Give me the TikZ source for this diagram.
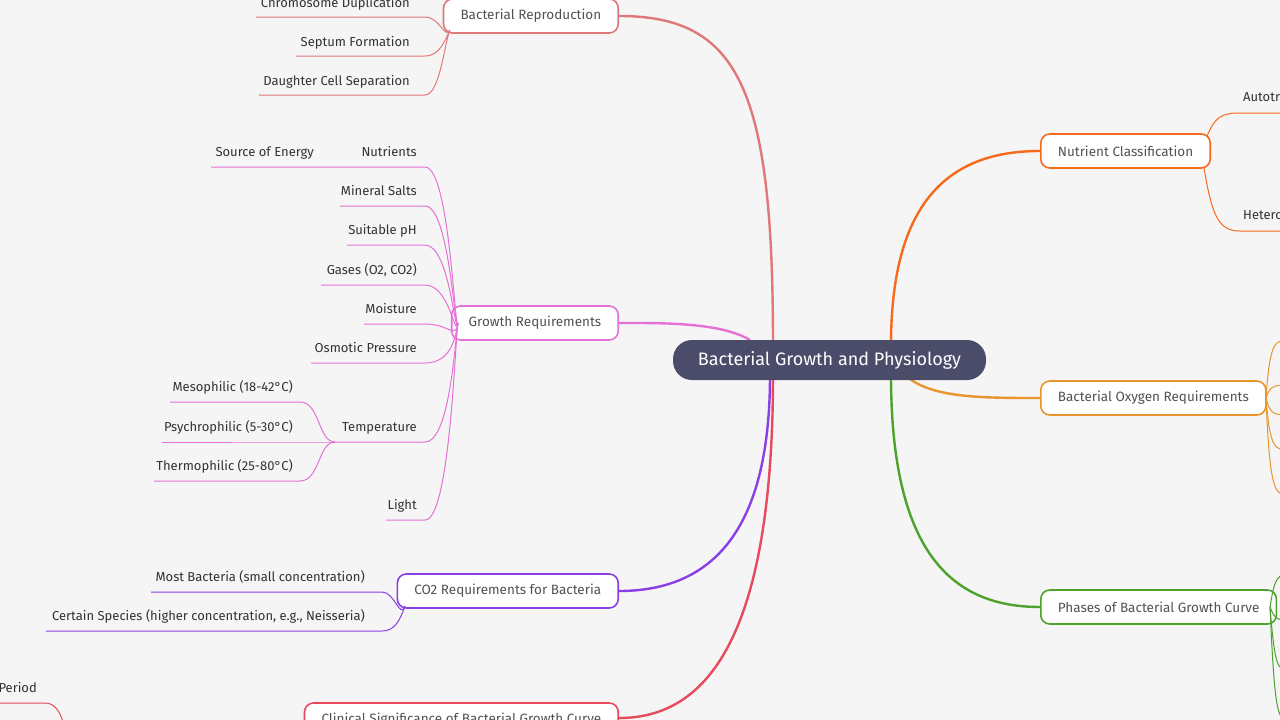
\documentclass[tikz,border=0pt]{standalone}
\usepackage{fontspec}
\setmainfont{Fira Sans}
\definecolor{bg}{HTML}{F5F5F5}
\definecolor{core}{HTML}{4A4C6A}
\definecolor{cRep}{HTML}{E07778}
\definecolor{cGro}{HTML}{E671D6}
\definecolor{cCO}{HTML}{8A3FE6}
\definecolor{cCli}{HTML}{E64A5C}
\definecolor{cNut}{HTML}{F76A1C}
\definecolor{cOxy}{HTML}{E8952C}
\definecolor{cPha}{HTML}{4CA22C}
\definecolor{ink}{HTML}{333333}
\tikzset{
  topic/.style = {draw=#1, line width=1.6pt, fill=white, rounded corners=9pt,
    minimum height=34pt, inner xsep=17pt, text=ink!85, font=\fontsize{13.5}{15}\selectfont},
  leaf/.style = {text=ink, font=\fontsize{13}{15}\selectfont, inner sep=0pt, anchor=base east},
  branch/.style = {draw=#1, line width=2.4pt},
  twig/.style = {draw=#1, line width=1pt}
}
\begin{document}
\begin{tikzpicture}[x=1pt, y=-1pt]
  \fill [bg] (0,0) rectangle (1280,720);
  \clip (0,0) rectangle (1280,720);

  % main branches
  \draw [branch=cRep] (773,345) .. controls (773,90) and (740,16) .. (619,16);
  \draw [branch=cGro] (750,340) .. controls (720,322) and (660,323) .. (619,323);
  \draw [branch=cCO] (770,375) .. controls (770,520) and (720,591) .. (619,591);
  \draw [branch=cCli] (773,375) .. controls (773,650) and (700,718) .. (619,718);
  \draw [branch=cNut] (891,345) .. controls (891,200) and (950,151) .. (1040,151);
  \draw [branch=cOxy] (905,375) .. controls (930,398) and (980,398) .. (1040,398);
  \draw [branch=cPha] (891,375) .. controls (891,550) and (950,607) .. (1040,607);

  \node (core) [fill=core, text=white, rounded corners=19pt, minimum width=313pt,
    minimum height=40pt, font=\fontsize{18}{20}\selectfont] at (829.5,360) {Bacterial Growth and Physiology};

  % left topics
  \node (rep) [topic=cRep, anchor=east] at (619,16) {Bacterial Reproduction};
  \node (gro) [topic=cGro, anchor=east] at (619,323) {Growth Requirements};
  \node (co) [topic=cCO, anchor=east] at (619,591) {CO2 Requirements for Bacteria};
  \node (cli) [topic=cCli, anchor=east] at (619,720) {Clinical Significance of Bacterial Growth Curve};
  % right topics
  \node (nut) [topic=cNut, anchor=west] at (1040,151) {Nutrient Classification};
  \node (oxy) [topic=cOxy, anchor=west] at (1040,398) {Bacterial Oxygen Requirements};
  \node (pha) [topic=cPha, anchor=west] at (1040,607) {Phases of Bacterial Growth Curve};

  % reproduction leaves
  \foreach \t/\x/\y/\n in {Chromosome Duplication/256/17/r1, Septum Formation/296/56/r2, Daughter Cell Separation/259/95/r3} {
    \node (\n) [leaf] at (410,\y-10) {\t};
    \draw [twig=cRep] (\x,\y) -- (425,\y) .. controls (440,\y) and (445,40) .. (450,30);
  }

  % growth requirement leaves
  \foreach \t/\x/\y/\n in {Nutrients/211/167/g1, Mineral Salts/340/206/g2, Suitable pH/347/245/g3,
      {Gases (O2, CO2)}/321/285/g4, Moisture/364/324/g5, Osmotic Pressure/311/363/g6,
      Temperature/335/442/g7, Light/386/520/g8} {
    \node (\n) [leaf] at (417,\y-11) {\t};
    \draw [twig=cGro] (\x,\y) -- (425,\y) .. controls (450,\y) and (455,340) .. (458,323);
  }
  \node (g1s) [leaf] at (314,156) {Source of Energy};
  \foreach \t/\x/\y/\n in {Mesophilic (18-42°C)/170/402/t1, Psychrophilic (5-30°C)/162/442/t2, Thermophilic (25-80°C)/154/481/t3} {
    \node (\n) [leaf] at (293,\y-11) {\t};
    \draw [twig=cGro] (\x,\y) -- (300,\y) .. controls (320,\y) and (318,442) .. (335,442);
  }

  % CO2 leaves
  \foreach \t/\x/\y/\n in {Most Bacteria (small concentration)/151/592/c1,
      {Certain Species (higher concentration, e.g., Neisseria)}/46/631/c2} {
    \node (\n) [leaf] at (365,\y-11) {\t};
    \draw [twig=cCO] (\x,\y) -- (382,\y) .. controls (395,\y) and (400,620) .. (405,606);
  }

  % clinical leaf
  \node (k1) [leaf] at (37,692) {Period};
  \draw [twig=cCli] (0,703) -- (45,703) .. controls (55,703) and (60,712) .. (63,722);

  % nutrient leaves
  \node (n1) [leaf, anchor=base west] at (1243,101) {Autotrophs};
  \node (n2) [leaf, anchor=base west] at (1243,219) {Heterotrophs};
  \draw [twig=cNut] (1207,136) .. controls (1215,118) and (1220,113) .. (1240,113) -- (1290,113);
  \draw [twig=cNut] (1204,168) .. controls (1212,215) and (1218,231) .. (1240,231) -- (1290,231);

  % oxygen sub-branches
  \foreach \y in {340,385,415,450,495}
    \draw [twig=cOxy] (1266,398) .. controls (1270,\y) and (1275,\y) .. (1290,\y);
  % phases sub-branches
  \foreach \y in {575,620,670,720}
    \draw [twig=cPha] (1270,607) .. controls (1275,\y) and (1278,\y) .. (1290,\y);
\end{tikzpicture}
\end{document}
